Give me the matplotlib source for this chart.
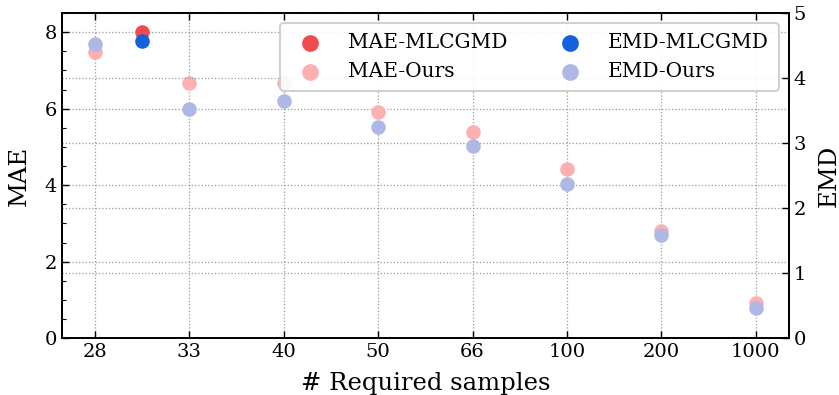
import matplotlib
matplotlib.use("Agg")
import matplotlib.pyplot as plt
from matplotlib.ticker import MultipleLocator

# data
samples = ["28", "33", "40", "50", "66", "100", "200", "1000"]
x_ours = [0, 1, 2, 3, 4, 5, 6, 7]
mae_ours = [7.48, 6.68, 6.68, 5.92, 5.38, 4.41, 2.81, 0.93]
emd_ours = [4.52, 3.53, 3.65, 3.25, 2.96, 2.37, 1.58, 0.46]

x_mlcgmd = [0.5]
mae_mlcgmd = [8.0]
emd_mlcgmd = [4.57]

plt.rcParams["font.family"] = "DejaVu Serif"
plt.rcParams["mathtext.fontset"] = "dejavuserif"

fig, ax1 = plt.subplots(figsize=(8.39, 3.95), dpi=100)
fig.subplots_adjust(left=0.074, right=0.940, bottom=0.144, top=0.967)
ax2 = ax1.twinx()

ms = 110
h1 = ax1.scatter(x_mlcgmd, mae_mlcgmd, s=ms, color="#F04B4F", lw=0, label="MAE-MLCGMD", zorder=3)
h2 = ax1.scatter(x_ours, mae_ours, s=ms, color="#FDB0B0", lw=0, label="MAE-Ours", zorder=3)
h3 = ax2.scatter(x_mlcgmd, emd_mlcgmd, s=ms, color="#1361DD", lw=0, label="EMD-MLCGMD", zorder=3)
h4 = ax2.scatter(x_ours, emd_ours, s=ms, color="#AEB8E6", lw=0, label="EMD-Ours", zorder=3)

ax1.set_xlim(-0.35, 7.35)
ax1.set_ylim(0, 8.5)
ax2.set_ylim(0, 5)
ax1.set_xticks(x_ours)
ax1.set_xticklabels(samples)
ax1.yaxis.set_major_locator(MultipleLocator(2))
ax1.yaxis.set_minor_locator(MultipleLocator(0.5))
ax2.yaxis.set_major_locator(MultipleLocator(1))

ax1.grid(True, which="major", linestyle=":", color="#999999", lw=0.9)
ax2.grid(True, which="major", axis="y", linestyle=":", color="#999999", lw=0.9)
ax1.set_axisbelow(True)

ax1.tick_params(axis="both", which="both", direction="in", labelsize=14, top=True)
ax1.tick_params(which="major", length=5, width=1)
ax1.tick_params(which="minor", length=3, width=0.8)
ax1.tick_params(axis="y", which="both", right=False)
ax2.tick_params(axis="y", direction="in", labelsize=14, length=5, width=1)

for ax in (ax1, ax2):
    for sp in ax.spines.values():
        sp.set_linewidth(1.3)

ax1.set_xlabel("# Required samples", fontsize=17.5, labelpad=8)
ax1.set_ylabel("MAE", fontsize=17.5, labelpad=10)
ax2.set_ylabel("EMD", fontsize=17.5, labelpad=8)

leg = ax2.legend(handles=[h1, h2, h3, h4], ncol=2, loc="upper right",
                 fontsize=14.5, frameon=True, fancybox=True, framealpha=0.9,
                 edgecolor="#cccccc", borderpad=0.5, columnspacing=2.15,
                 handletextpad=0.85, markerscale=1.15)
leg.get_frame().set_linewidth(1.5)

fig.savefig("out.png", dpi=100)
